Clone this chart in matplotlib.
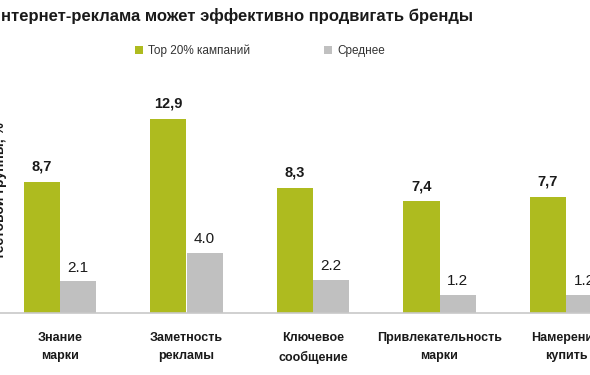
import matplotlib.pyplot as plt
import numpy as np

categories = ["Знание\nмарки", "Заметность\nрекламы", "Ключевое\nсообщение",
              "Привлекательность\nмарки", "Намерение\nкупить"]
top20 = [8.7, 12.9, 8.3, 7.4, 7.7]
average = [2.1, 4.0, 2.2, 1.2, 1.2]

green = "#aebb1f"
grey = "#c0c0c0"

plt.rcParams['font.family'] = ['Liberation Sans', 'DejaVu Sans']

fig = plt.figure(figsize=(5.9, 3.75), dpi=100)
ax = fig.add_axes([0, 62 / 375, 1, 211 / 375])

x = np.arange(len(categories))
w = 0.285
ax.bar(x - w / 2, top20, w, color=green, label="Top 20% кампаний")
ax.bar(x + w / 2, average, w, color=grey, label="Среднее")

for xi, v in zip(x, top20):
    ax.text(xi - w / 2, v + 0.55, f"{v:.1f}".replace(".", ","), ha="center", va="bottom",
            fontsize=10.5, fontweight="bold", color="#1a1a1a")
for xi, v in zip(x, average):
    ax.text(xi + w / 2, v + 0.45, f"{v:.1f}", ha="center", va="bottom",
            fontsize=11, color="#1a1a1a")

ax.set_xlim(-60 / 126.5, 530 / 126.5)
ax.set_ylim(0, 14)
ax.set_xticks(x)
ax.set_xticklabels(categories, fontsize=9, fontweight="bold", color="#1a1a1a",
                   linespacing=1.65)
ax.tick_params(axis="x", length=0, pad=14)
ax.set_yticks([])
for s in ["top", "left", "right"]:
    ax.spines[s].set_visible(False)
ax.spines["bottom"].set_color("#c8c8c8")
ax.spines["bottom"].set_linewidth(1.2)

fig.text(-11 / 590, 1 - 21 / 375, "Интернет-реклама может эффективно продвигать бренды",
         fontsize=12, fontweight="bold", color="#1a1a1a", va="baseline")

fig.text(-7 / 590, 1 - 191 / 375, "тестовой группы, %", rotation=90, fontsize=10,
         fontweight="bold", va="center", ha="left", color="#1a1a1a")

fig.legend(loc="center left", bbox_to_anchor=(124 / 590, 1 - 51 / 375), ncol=2,
           frameon=False, handlelength=0.7, handleheight=0.7, handletextpad=0.4,
           columnspacing=6.3, fontsize=8.5, labelcolor="#333333")

fig.savefig("out.png", dpi=100)
